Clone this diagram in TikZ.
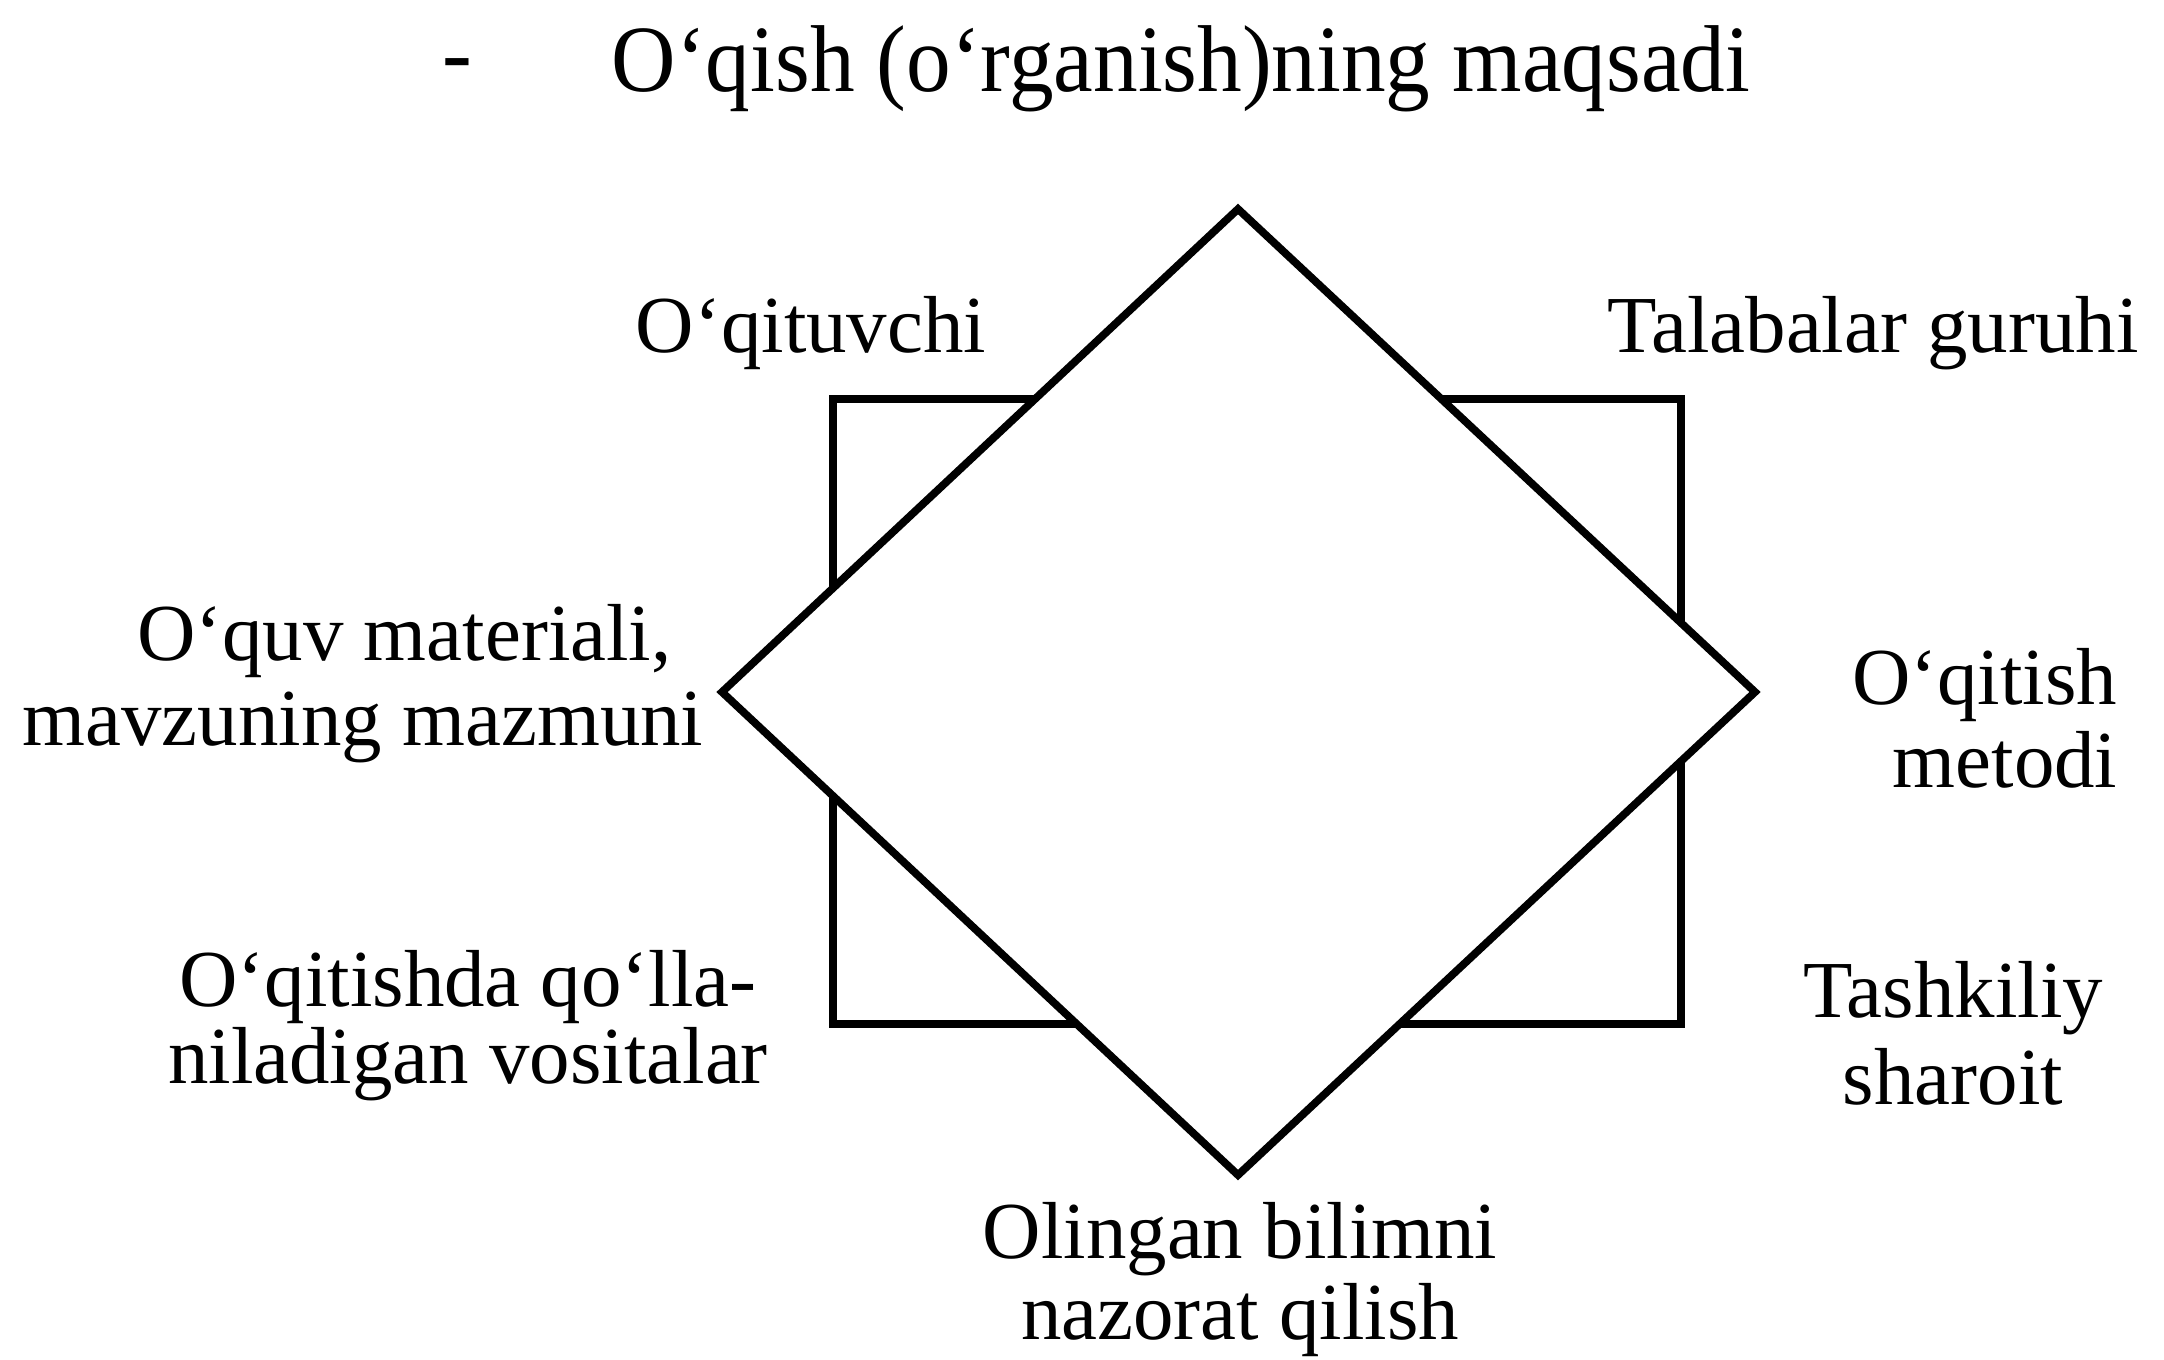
\documentclass[tikz,border=0pt]{standalone}
\usepackage{fontspec}
\setmainfont{Liberation Serif}
\newfontfamily\titlefont[FakeStretch=0.94]{Liberation Serif}
\begin{document}
\begin{tikzpicture}[x=0.01cm,y=-0.01cm,
  lbl/.style={font=\fontsize{23}{#1}\selectfont, inner sep=0pt},
  lbl/.default=24,
  shapeline/.style={line width=2.2pt, line join=miter}]
\useasboundingbox (0,0) rectangle (2164,1359);
% square behind
\coordinate (sTL) at (833,399);
\coordinate (sBR) at (1681,1024);
\draw[shapeline] (sTL) rectangle (sBR);
% diamond in front
\coordinate (dT) at (1238,209);
\coordinate (dR) at (1755,692);
\coordinate (dB) at (1238,1175);
\coordinate (dL) at (722,692);
\draw[shapeline, fill=white] (dT) -- (dR) -- (dB) -- (dL) -- cycle;
% title
\node[inner sep=0pt, anchor=base, font=\titlefont\fontsize{27}{30}\selectfont] (dash) at (457,84) {-};
\node[inner sep=0pt, anchor=base west, font=\titlefont\fontsize{27}{30}\selectfont] (title) at (611,91) {O‘qish (o‘rganish)ning maqsadi};
% labels
\node[lbl, anchor=base] (teacher) at (811,352) {O‘qituvchi};
\node[lbl, anchor=base] (group) at (1873,352) {Talabalar guruhi};
\node[lbl=24, anchor=base east, align=right] (material) at (704,745) {O‘quv materiali,\hspace*{9pt}\\mavzuning mazmuni};
\node[lbl=23.6, anchor=base east, align=right] (method) at (2118,787) {O‘qitish\\metodi};
\node[lbl=20.5, anchor=base, align=center] (tools) at (468,1083) {O‘qitishda qo‘lla-\\niladigan vositalar};
\node[lbl=24.5, anchor=base, align=center] (conditions) at (1953,1104) {Tashkiliy\\sharoit};
\node[lbl=23, anchor=base, align=center] (control) at (1240,1339) {Olingan bilimni\\nazorat qilish};
\end{tikzpicture}
\end{document}
